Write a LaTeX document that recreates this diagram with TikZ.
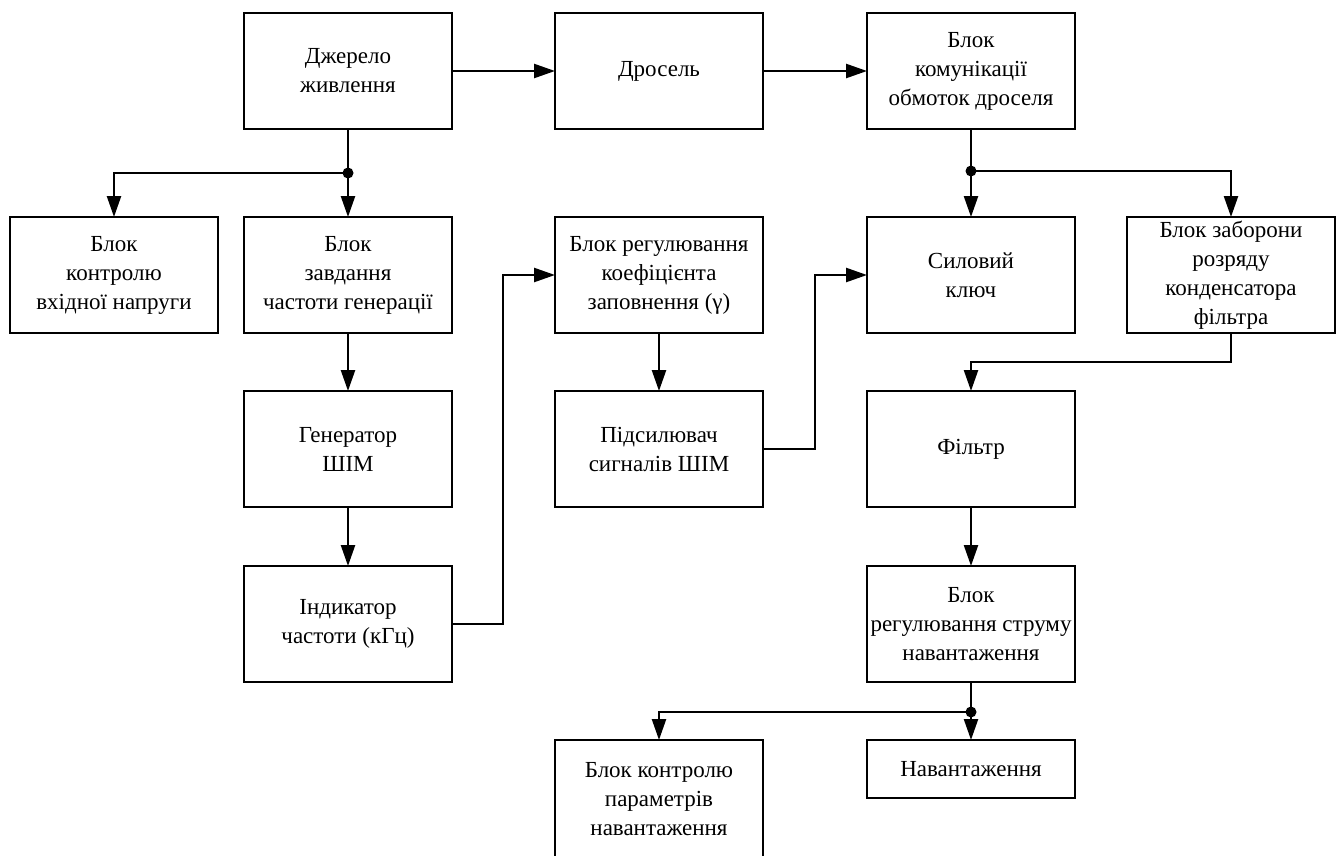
\documentclass[tikz,border=0pt]{standalone}
\usepackage{fontspec}
\setmainfont{Liberation Serif}
\usepackage{tikz}
\usetikzlibrary{arrows.meta,positioning,calc}

\begin{document}
\begin{tikzpicture}[
  font=\fontsize{23}{29}\selectfont,
  box/.style={
    rectangle,
    draw,
    line width=2.4pt,
    outer sep=0pt,
    minimum height=116pt,
    minimum width=208pt,
    align=center,
    inner sep=2pt
  },
  link/.style={
    line width=2.4pt
  },
  arr/.style={
    link,
    -{Triangle[length=21pt,width=14pt]}
  },
  dot/.style={
    fill=black
  }
]
\useasboundingbox (0,0) rectangle (1341pt,-855pt);
\clip (0,0) rectangle (1341pt,-855pt);
\node[box] (src) at (348pt,-71pt) {Джерело\\живлення};
\node[box, right=103pt of src] (dros) {Дросель};
\node[box, right=104pt of dros] (komm)
{Блок\\комунікації\\обмоток дроселя};
\node[box, below=88pt of src] (zavd)
{Блок\\завдання\\частоти генерації};
\node[box, left=26pt of zavd] (kvx)
{Блок\\контролю\\вхідної напруги};
\node[box, below=58pt of zavd] (gen) {Генератор\\ШІМ};
\node[box, below=59pt of gen] (ind) {Індикатор\\частоти (кГц)};
\node[box, below=88pt of dros] (reg)
{Блок регулювання\\коефіцієнта\\заповнення (γ)};
\node[box, below=58pt of reg] (pids) {Підсилювач\\сигналів ШІМ};
\node[box, below=88pt of komm] (key) {Силовий\\ключ};
\node[
  box,
  right=52pt of key,
  inner sep=0pt
] (zab)
{Блок заборони\\розряду\\конденсатора\\фільтра};
\node[box, below=58pt of key] (filt) {Фільтр};
\node[box, below=59pt of filt] (strum)
{Блок\\регулювання струму\\навантаження};
\node[
  box,
  below=58pt of strum,
  minimum height=58pt
] (navan)
{Навантаження};
\node[
  box,
  anchor=north,
  minimum height=118pt
] (kpar) at (pids.south |- navan.north)
{Блок контролю\\параметрів\\навантаження};
\coordinate (jsrc) at ($(src.south)+(0,-44pt)$);
\coordinate (jkomm) at ($(komm.south)+(0,-42pt)$);
\coordinate (jstrum) at ($(strum.south)+(0,-30pt)$);
\draw[arr] (src) -- (dros);
\draw[arr] (dros) -- (komm);
\draw[link] (src.south) -- (jsrc);
\draw[arr] (jsrc) -- (zavd);
\draw[arr] (jsrc) -| (kvx.north);
\draw[arr] (zavd) -- (gen);
\draw[arr] (gen) -- (ind);
\draw[arr] (ind.east) -- ++(51pt,0) |- (reg.west);
\draw[arr] (reg) -- (pids);
\draw[arr] (pids.east) -- ++(52pt,0) |- (key.west);
\draw[link] (komm.south) -- (jkomm);
\draw[arr] (jkomm) -- (key);
\draw[arr] (jkomm) -| (zab.north);
\draw[arr] (zab.south) -- ++(0,-29pt) -| (filt.north);
\draw[arr] (filt) -- (strum);
\draw[link] (strum.south) -- (jstrum);
\draw[arr] (jstrum) -- (navan);
\draw[arr] (jstrum) -| (kpar.north);
\fill[dot] (jsrc) circle (5.5pt);
\fill[dot] (jkomm) circle (5.5pt);
\fill[dot] (jstrum) circle (5.5pt);
\end{tikzpicture}
\end{document}
